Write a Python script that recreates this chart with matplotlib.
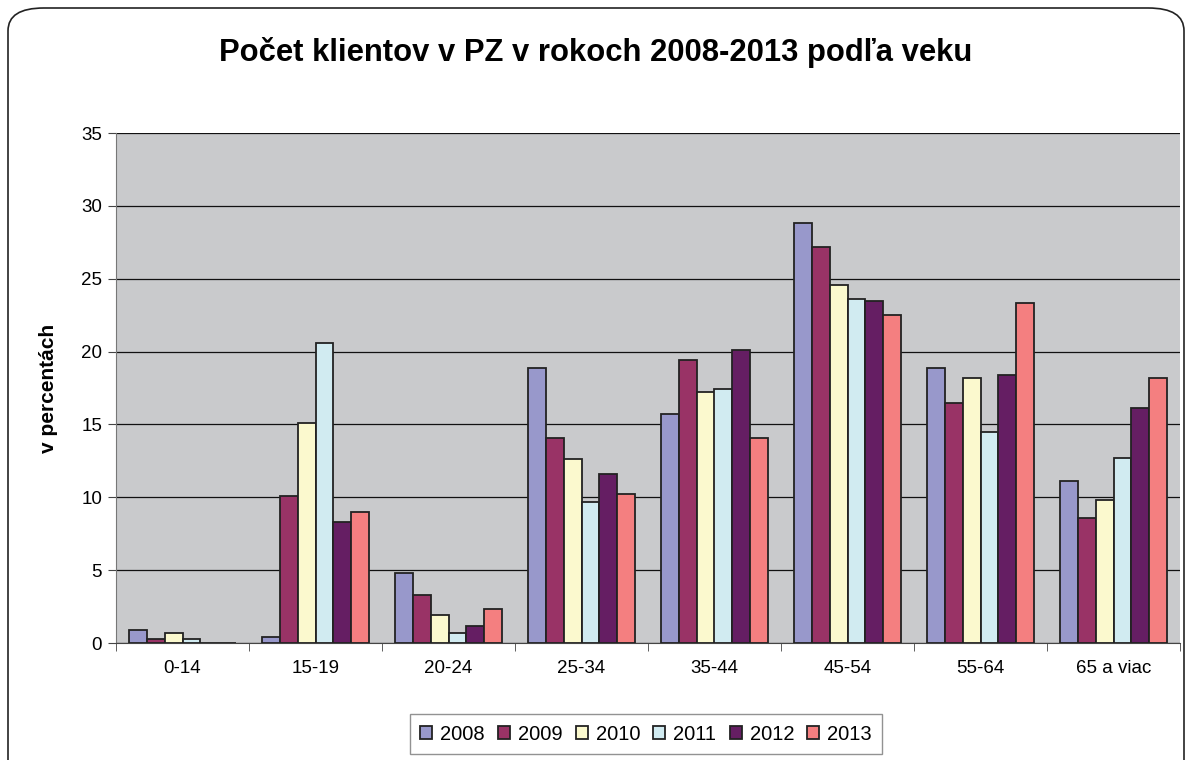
import matplotlib
matplotlib.use("Agg")
import matplotlib.pyplot as plt
import numpy as np
from matplotlib.patches import FancyBboxPatch

plt.rcParams['font.family'] = ['Liberation Sans', 'DejaVu Sans']

categories = ["0-14", "15-19", "20-24", "25-34", "35-44", "45-54", "55-64", "65 a viac"]
years = ["2008", "2009", "2010", "2011", "2012", "2013"]

v2008 = [0.9, 0.4, 4.8, 18.9, 15.7, 28.8, 18.9, 11.1]
v2009 = [0.3, 10.1, 3.3, 14.1, 19.4, 27.2, 16.5, 8.6]
v2010 = [0.7, 15.1, 1.9, 12.6, 17.2, 24.6, 18.2, 9.8]
v2011 = [0.3, 20.6, 0.7, 9.7, 17.4, 23.6, 14.5, 12.7]
v2012 = [0.0, 8.3, 1.2, 11.6, 20.1, 23.5, 18.4, 16.1]
v2013 = [0.0, 9.0, 2.3, 10.2, 14.1, 22.5, 23.3, 18.2]

series = [v2008, v2009, v2010, v2011, v2012, v2013]
colors = ["#9898CB", "#993366", "#FBF9CE", "#D1EBF1", "#651E63", "#F47F80"]

fig = plt.figure(figsize=(11.92, 7.6), dpi=100, facecolor="white")

# rounded outer frame
frame = FancyBboxPatch((8 / 1192, -0.05), 1176 / 1192, 1.0 - 8 / 760 + 0.05,
                       boxstyle="round,pad=0,rounding_size=0.03",
                       transform=fig.transFigure, facecolor="none",
                       edgecolor="#222222", linewidth=1.2, zorder=-1)
fig.patches.append(frame)

ax = fig.add_axes([116 / 1192, 1 - 643 / 760, (1180 - 116) / 1192, (643 - 133) / 760])
ax.set_facecolor("#C9CACC")

x = np.arange(len(categories))
n = len(series)
width = 1.0 / 7.5
for i, (vals, col, yr) in enumerate(zip(series, colors, years)):
    offs = (i - (n - 1) / 2) * width
    ax.bar(x + offs, vals, width=width, color=col, edgecolor="#222222",
           linewidth=1.3, label=yr, zorder=3)

ax.set_xlim(-0.5, len(categories) - 0.5)
ax.set_ylim(0, 35)
ax.set_yticks(np.arange(0, 36, 5))
ax.yaxis.grid(True, color="#111111", linewidth=0.9, zorder=1)
ax.set_axisbelow(True)

ax.set_xticks(x)
ax.set_xticklabels(categories, fontsize=13.5)
ax.set_xticks(np.arange(-0.5, len(categories), 1), minor=True)
ax.tick_params(axis="x", which="major", length=0, pad=12)
ax.tick_params(axis="x", which="minor", length=6, direction="out", color="#444444")
ax.tick_params(axis="y", length=6, direction="out", labelsize=13.5, pad=4, color="#444444")

for s in ["top", "right"]:
    ax.spines[s].set_visible(False)
ax.spines["left"].set_color("#777777")
ax.spines["bottom"].set_color("#444444")

ax.set_ylabel("v percentách", fontsize=15, fontweight="bold", labelpad=17)

fig.text(0.5, 1 - 52 / 760, "Počet klientov v PZ v rokoch 2008-2013 podľa veku",
         ha="center", va="center", fontsize=22.3, fontweight="bold")

leg = fig.legend(loc="center", bbox_to_anchor=(646 / 1192, 1 - 734 / 760), ncol=6,
                 fontsize=14.5, frameon=True, fancybox=False, edgecolor="#777777",
                 handlelength=0.6, handleheight=0.6, handletextpad=0.4,
                 columnspacing=0.65, borderpad=0.5)
leg.get_frame().set_linewidth(1.0)

fig.savefig("out.png", dpi=100)
